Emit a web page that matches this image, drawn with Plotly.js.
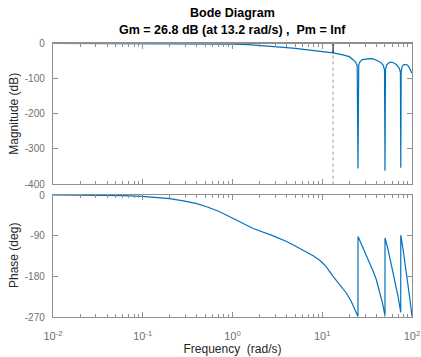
<!DOCTYPE html>
<html>
<head>
<meta charset="utf-8">
<script src="https://cdn.plot.ly/plotly-3.0.1.min.js"></script>
<style>html,body{margin:0;padding:0;background:#fff;}#chart{width:421px;height:357px;}</style>
</head>
<body>
<div id="chart"></div>
<script>
// ---- data ----
var magFreq = [0.01, 0.02, 0.05, 0.1, 0.2, 0.3, 0.5, 0.7, 1, 1.5, 2, 3, 4, 5, 7, 10, 13.2, 17, 20, 22, 23.5, 24.5, 25, 25.5, 26.5, 28, 31, 34, 37, 40.4, 43, 46, 48, 49.4, 50, 50.6, 52.3, 55, 57, 60, 62, 65, 67.5, 70, 72.2, 74.3, 75, 75.7, 77.4, 80, 83.6, 86, 88.6, 92, 95, 97.5, 100];
var magDb = [0, 0, -0.02, -0.05, -0.1, -0.2, -0.5, -0.9, -1.6, -3.2, -5, -8.5, -11.5, -14, -18, -22.5, -26.8, -32.5, -37.5, -46, -53, -63, -356, -60, -51, -46, -43.5, -43, -44, -47, -51, -56.4, -63, -75, -362, -75, -61, -55.5, -53.5, -53.5, -54.7, -57.5, -61, -65, -70.6, -82, -354, -82, -66, -61, -59.5, -59.5, -61.2, -66, -72.6, -78, -85];

var phaseFreq = [0.01, 0.03, 0.06, 0.1, 0.156, 0.2, 0.283, 0.4, 0.516, 0.7, 1.02, 1.21, 1.7, 2.8, 4, 5, 6.7, 8, 9.44, 11, 13.2, 16, 18.7, 21, 23, 25, 25.05, 28, 31.2, 34, 37.1, 40, 44, 47, 50, 50.05, 54, 58, 62, 66, 70, 74.9, 75, 80, 85, 90, 95, 100];
var phaseDeg = [0, -0.6, -1.5, -3, -5.5, -8, -13, -19, -26, -36, -52, -59, -74, -90, -103, -113, -126, -135, -145, -158, -180, -200, -218, -235, -252, -269, -92, -114, -133, -151, -170, -187, -216, -240, -267, -95, -120, -147, -172, -198, -225, -260, -89, -124, -160, -196, -232, -269];

var gmFreq = 13.2;       // rad/s
var gmDb = 26.8;         // dB
var magTicks = [-400, -300, -200, -100, 0];
var magTickText = ['-400', '-300', '-200', '-100', '0'];
var phaseTicks = [-270, -180, -90, 0];
var phaseTickText = ['-270', '-180', '-90', '0'];
var freqTicks = [0.01, 0.1, 1, 10, 100];
var freqTickText = ['10<sup>-2</sup>', '10<sup>-1</sup>', '10<sup>0</sup>', '10<sup>1</sup>', '10<sup>2</sup>'];
var titleLines = ['Bode Diagram', 'Gm = 26.8 dB (at 13.2 rad/s) , &nbsp;Pm = Inf'];
var magLabel = 'Magnitude (dB)';
var phaseLabel = 'Phase (deg)';
var freqLabel = 'Frequency &nbsp;(rad/s)';

// ---- build ----
var minorVals = [];
[0.01, 0.1, 1, 10].forEach(function (d) { for (var k = 2; k <= 9; k++) minorVals.push(+(d * k).toPrecision(3)); });

var blue = '#0072BD';
var axCol = '#8f8f8f';
var tickFontCol = '#707070';
var labCol = '#262626';
var fam = '"Liberation Sans", Arial, Helvetica, sans-serif';

var magDom = [(357 - 184) / 357, (357 - 43.5) / 357];
var phDom = [(357 - 317) / 357, (357 - 195) / 357];

var traces = [
  {x: [gmFreq, gmFreq], y: [0, magTicks[0]], xaxis: 'x', yaxis: 'y', mode: 'lines',
   line: {color: '#7a7a7a', width: 0.8, dash: 'dot'}, hoverinfo: 'skip', showlegend: false},
  {x: magFreq, y: magDb, xaxis: 'x', yaxis: 'y', mode: 'lines',
   line: {color: blue, width: 1.2}, showlegend: false},
  {x: [gmFreq, gmFreq], y: [0, -gmDb], xaxis: 'x', yaxis: 'y', mode: 'lines',
   line: {color: '#000000', width: 1}, showlegend: false},
  {x: phaseFreq, y: phaseDeg, xaxis: 'x2', yaxis: 'y2', mode: 'lines',
   line: {color: blue, width: 1.2}, showlegend: false}
];

function xax(anchor, labels) {
  return {
    type: 'log', range: [-2, 2], domain: [53 / 421, 412 / 421], anchor: anchor,
    tickmode: 'array', tickvals: freqTicks, ticktext: freqTickText,
    showticklabels: labels, ticks: 'inside', ticklen: 5, tickwidth: 1, tickcolor: axCol,
    minor: {tickmode: 'array', tickvals: minorVals, ticks: 'inside', ticklen: 3, tickwidth: 1, tickcolor: axCol, showgrid: false},
    mirror: 'allticks', showline: true, linecolor: axCol, linewidth: 1.2,
    showgrid: false, zeroline: false, fixedrange: true, ticklabelstandoff: 9,
    tickfont: {family: fam, size: 11, color: tickFontCol}
  };
}
function yax(anchor, range, ticks, text, dom) {
  return {
    range: range, domain: dom, anchor: anchor,
    tickmode: 'array', tickvals: ticks, ticktext: text, ticks: 'inside', ticklen: 5, tickwidth: 1, tickcolor: axCol,
    mirror: 'allticks', showline: true, linecolor: axCol, linewidth: 1.2,
    showgrid: false, zeroline: false, fixedrange: true, ticklabelstandoff: 5,
    tickfont: {family: fam, size: 10, color: tickFontCol}
  };
}

var xa2 = xax('y2', true);
xa2.title = {text: freqLabel, standoff: 3, font: {family: fam, size: 12, color: labCol}};

var annotations = [
  {text: '<b>' + titleLines[0] + '</b>', x: 232.5 / 421, y: 1 - 13 / 357, xref: 'paper', yref: 'paper',
   xanchor: 'center', yanchor: 'middle', showarrow: false, font: {family: fam, size: 12.5, color: '#000'}},
  {text: '<b>' + titleLines[1] + '</b>', x: 232.5 / 421, y: 1 - 30 / 357, xref: 'paper', yref: 'paper',
   xanchor: 'center', yanchor: 'middle', showarrow: false, font: {family: fam, size: 12.5, color: '#000'}},
  {text: magLabel, x: 14 / 421, y: (magDom[0] + magDom[1]) / 2, xref: 'paper', yref: 'paper', textangle: -90,
   xanchor: 'center', yanchor: 'middle', showarrow: false, font: {family: fam, size: 12, color: labCol}},
  {text: phaseLabel, x: 14 / 421, y: (phDom[0] + phDom[1]) / 2, xref: 'paper', yref: 'paper', textangle: -90,
   xanchor: 'center', yanchor: 'middle', showarrow: false, font: {family: fam, size: 12, color: labCol}}
];

var layout = {
  width: 421, height: 357,
  margin: {l: 0, r: 0, t: 0, b: 0},
  paper_bgcolor: '#ffffff', plot_bgcolor: '#ffffff',
  showlegend: false,
  xaxis: xax('y', false),
  xaxis2: xa2,
  yaxis: yax('x', [-400, 0], magTicks, magTickText, magDom),
  yaxis2: yax('x2', [-270, 0], phaseTicks, phaseTickText, phDom),
  annotations: annotations
};

Plotly.newPlot('chart', traces, layout, {displayModeBar: false, staticPlot: true});
</script>
</body>
</html>
